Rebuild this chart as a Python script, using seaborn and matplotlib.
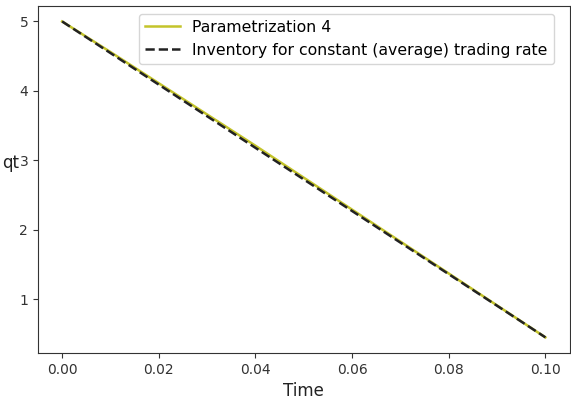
import numpy as np
import matplotlib
matplotlib.use('Agg')
import matplotlib.pyplot as plt
import seaborn as sns

# time grid and inventory paths
time = [0.00, 0.01, 0.02, 0.03, 0.04, 0.05, 0.06, 0.07, 0.08, 0.09, 0.10]
param4 = [5.00, 4.56, 4.11, 3.66, 3.21, 2.75, 2.29, 1.83, 1.37, 0.91, 0.45]
const_rate = [5.00, 4.545, 4.09, 3.635, 3.18, 2.725, 2.27, 1.815, 1.36, 0.905, 0.45]

fig = plt.figure(figsize=(5.71, 4.05), dpi=100)
ax = fig.add_axes([0.0665, 0.128, 0.931, 0.858])

sns.lineplot(x=time, y=param4, ax=ax, color='#c4c42a', linewidth=1.8,
             label='Parametrization 4')
sns.lineplot(x=time, y=const_rate, ax=ax, color='#222222', linestyle='--',
             linewidth=1.8, label='Inventory for constant (average) trading rate')

ax.set_xlabel('Time', fontsize=12, color='#222222')
ax.set_ylabel('qt', fontsize=12, rotation=0, color='#222222')
ax.yaxis.set_label_coords(-0.051, 0.52)
ax.set_xticks([0.00, 0.02, 0.04, 0.06, 0.08, 0.10])
ax.set_yticks([1, 2, 3, 4, 5])
ax.tick_params(labelsize=10, labelcolor='#333333', color='#333333')
for s in ax.spines.values():
    s.set_color('#333333')
ax.legend(loc='upper right', fontsize=11.3, handlelength=2.2,
          bbox_to_anchor=(0.985, 1.0))

fig.savefig('out.png', dpi=100)
